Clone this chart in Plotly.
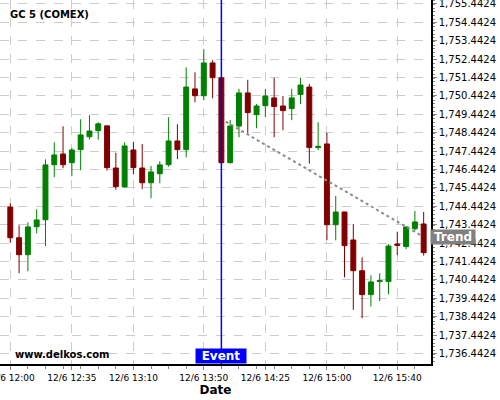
import plotly.graph_objects as go
import pandas as pd

# 5-minute candles, 12:00 .. 15:55
start_time = "2020-12-06 12:00"
opens  = [1744.40, 1742.73, 1741.81, 1743.33, 1743.71, 1746.70, 1747.28, 1746.81, 1747.52, 1748.22,
          1748.55, 1748.81, 1746.52, 1745.49, 1747.50, 1746.52, 1745.72, 1746.21, 1746.70, 1747.99,
          1747.52, 1750.82, 1750.45, 1752.23, 1751.42, 1746.81, 1748.80, 1750.60, 1749.42, 1749.91,
          1750.33, 1749.89, 1749.75, 1750.51, 1750.92, 1747.63, 1747.83, 1743.44, 1744.13, 1742.61,
          1740.94, 1739.64, 1740.35, 1740.35, 1742.39, 1742.25, 1743.22, 1743.48]
closes = [1742.73, 1741.81, 1743.32, 1743.70, 1746.69, 1747.23, 1746.70, 1747.50, 1748.32, 1748.53,
          1748.92, 1746.54, 1745.51, 1747.72, 1746.54, 1745.72, 1746.31, 1746.69, 1747.99, 1747.52,
          1750.92, 1750.45, 1752.23, 1751.43, 1746.81, 1748.80, 1750.60, 1749.53, 1749.89, 1750.44,
          1749.86, 1749.64, 1750.33, 1751.03, 1747.63, 1747.70, 1743.44, 1744.13, 1742.30, 1740.94,
          1739.64, 1740.33, 1740.40, 1742.28, 1742.32, 1743.32, 1743.59, 1741.92]
highs  = [1744.60, 1743.41, 1743.57, 1744.28, 1746.99, 1747.92, 1748.79, 1747.61, 1749.17, 1749.39,
          1749.01, 1748.81, 1747.35, 1747.92, 1747.94, 1747.83, 1746.63, 1746.89, 1749.28, 1748.90,
          1751.99, 1751.72, 1752.98, 1752.38, 1751.45, 1749.13, 1750.82, 1751.31, 1750.00, 1750.82,
          1751.42, 1750.44, 1750.82, 1751.42, 1751.09, 1749.01, 1748.43, 1745.00, 1744.13, 1743.48,
          1741.67, 1740.69, 1740.80, 1742.39, 1743.06, 1743.32, 1744.19, 1744.13]
lows   = [1742.46, 1740.80, 1740.91, 1742.97, 1742.28, 1746.02, 1746.51, 1746.07, 1746.40, 1748.06,
          1748.06, 1746.38, 1745.34, 1745.45, 1746.18, 1745.37, 1744.88, 1745.69, 1746.59, 1747.00,
          1747.10, 1750.09, 1750.20, 1750.31, 1746.75, 1746.76, 1748.19, 1748.41, 1748.68, 1749.30,
          1748.19, 1748.57, 1749.12, 1749.99, 1746.76, 1747.49, 1742.61, 1742.59, 1740.58, 1738.81,
          1738.36, 1738.99, 1739.28, 1739.66, 1741.79, 1742.11, 1743.12, 1741.76]
times = pd.date_range(start_time, periods=len(opens), freq="5min")

tick_times = ["2020-12-06 12:00", "2020-12-06 12:35", "2020-12-06 13:10", "2020-12-06 13:50",
              "2020-12-06 14:25", "2020-12-06 15:00", "2020-12-06 15:40"]
tick_labels = ["12/6 12:00", "12/6 12:35", "12/6 13:10", "12/6 13:50",
               "12/6 14:25", "12/6 15:00", "12/6 15:40"]

event_time = "2020-12-06 14:00"
trend_x = ["2020-12-06 14:02:30", "2020-12-06 15:54:30"]
trend_y = [1749.04, 1742.80]

x_range = ["2020-12-06 11:54:09", "2020-12-06 15:59:10"]
y_range = [1735.87, 1755.65]

fig = go.Figure()
fig.add_trace(go.Candlestick(
    x=times, open=opens, high=highs, low=lows, close=closes,
    increasing=dict(line=dict(color="#008000", width=1), fillcolor="#008000"),
    decreasing=dict(line=dict(color="#800000", width=1), fillcolor="#800000"),
    whiskerwidth=0, showlegend=False, hoverinfo="skip",
))
fig.add_trace(go.Scatter(
    x=trend_x, y=trend_y, mode="lines",
    line=dict(color="#8c8c8c", width=2, dash="dot"),
    showlegend=False, hoverinfo="skip",
))

fig.add_shape(type="line", xref="x", yref="paper", x0=event_time, x1=event_time, y0=0, y1=1,
              line=dict(color="#0000ff", width=1.5))

fig.add_annotation(x=event_time, xref="x", y=0, yref="paper", yanchor="bottom",
                   text="<b>Event</b>", showarrow=False, bgcolor="#0000ff",
                   font=dict(family="DejaVu Sans", size=12, color="white"),
                   borderpad=0, width=50)
fig.add_annotation(x=1, xref="paper", xanchor="left", y=trend_y[1], yref="y",
                   text="<b>Trend</b>", showarrow=False, bgcolor="#808080",
                   font=dict(family="DejaVu Sans", size=12, color="white"),
                   borderpad=0, width=44, xshift=-1, yshift=-1)
fig.add_annotation(x=0, xref="paper", xanchor="left", y=1, yref="paper", yanchor="top",
                   text="<b>GC 5 (COMEX)</b>", showarrow=False,
                   font=dict(family="DejaVu Sans", size=10, color="black"),
                   xshift=8, yshift=-7)
fig.add_annotation(x=0, xref="paper", xanchor="left", y=0, yref="paper", yanchor="bottom",
                   text="<b>www.delkos.com</b>", showarrow=False,
                   font=dict(family="DejaVu Sans", size=10, color="black"),
                   xshift=13, yshift=2)

fig.update_layout(
    width=500, height=400,
    margin=dict(l=0, r=69, t=0, b=36),
    paper_bgcolor="white", plot_bgcolor="white",
    boxgap=0.2,
    font=dict(family="DejaVu Sans", color="black"),
    xaxis=dict(
        range=x_range, rangeslider=dict(visible=False), automargin=False,
        tickvals=tick_times, ticktext=tick_labels, ticklabeloverflow="allow",
        tickfont=dict(size=9), ticks="outside", ticklen=4, tickcolor="#888",
        showgrid=True, gridcolor="#cccccc", griddash="dash", gridwidth=1,
        showline=True, linecolor="black", linewidth=1.5, mirror=False,
        zeroline=False,
        title=dict(text="<b>Date</b>", font=dict(size=12), standoff=4),
        minor=dict(ticks="outside", ticklen=3, tickcolor="#888", dtick=10 * 60 * 1000,
                   tick0="2020-12-06 12:00", showgrid=False),
    ),
    yaxis=dict(
        range=y_range, side="right", automargin=False,
        tick0=1736.4424, dtick=1, tickformat=",.4f", ticklabeloverflow="allow",
        tickfont=dict(size=10), ticks="outside", ticklen=4, tickcolor="#888",
        showgrid=True, gridcolor="#cccccc", griddash="dash", gridwidth=1,
        showline=True, linecolor="black", linewidth=1.5,
        zeroline=False,
        minor=dict(ticks="outside", ticklen=2, tickcolor="#888", dtick=0.2, showgrid=False),
    ),
)

fig.write_html("out.html", config={"displayModeBar": False},
               post_script="document.body.style.margin='0';")
